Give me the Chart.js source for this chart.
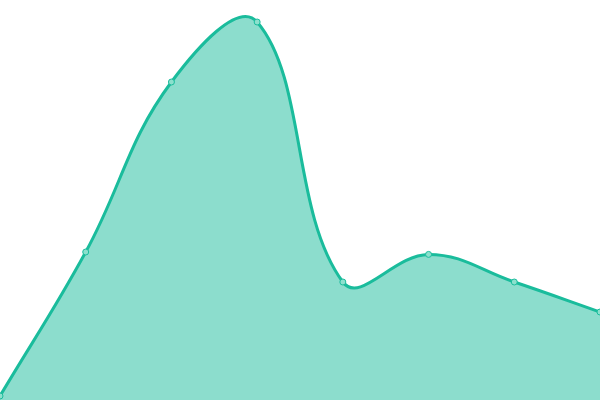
<!DOCTYPE html>
<html>
<head>
<meta charset="utf-8">
<script src="https://cdn.jsdelivr.net/npm/chart.js@4"></script>
<style>
  html, body { margin: 0; padding: 0; background: #fff; }
  #wrap { width: 600px; height: 400px; }
</style>
</head>
<body>
<div id="wrap"><canvas id="myChart"></canvas></div>
<script>
const LABELS = ['1', '2', '3', '4', '5', '6', '7', '8'];
const VALUES = [1, 37, 79.5, 94.5, 29.5, 36.4, 29.5, 22];
const Y_MIN = 0, Y_MAX = 100;

var ctx = document.getElementById('myChart').getContext('2d');
var myChart = new Chart(ctx, {
    type: 'line',
    data: {
        labels: LABELS,
        datasets: [{
            data: VALUES,
            fill: 'origin',
            tension: 0.4,
            backgroundColor: 'rgba(26, 188, 156, 0.5)',
            borderColor: 'rgba(26, 188, 156, 1)',
            borderWidth: 3,
            pointRadius: 3,
            pointBorderWidth: 1,
            pointBackgroundColor: 'rgba(140, 224, 205, 1)',
            pointBorderColor: 'rgba(26, 188, 156, 1)'
        }]
    },
    options: {
        responsive: true,
        maintainAspectRatio: false,
        animation: false,
        layout: { padding: 0, autoPadding: false },
        plugins: {
            legend: { display: false },
            tooltip: { enabled: false }
        },
        scales: {
            x: { display: false, offset: false },
            y: { display: false, min: Y_MIN, max: Y_MAX }
        }
    }
});
</script>
</body>
</html>
